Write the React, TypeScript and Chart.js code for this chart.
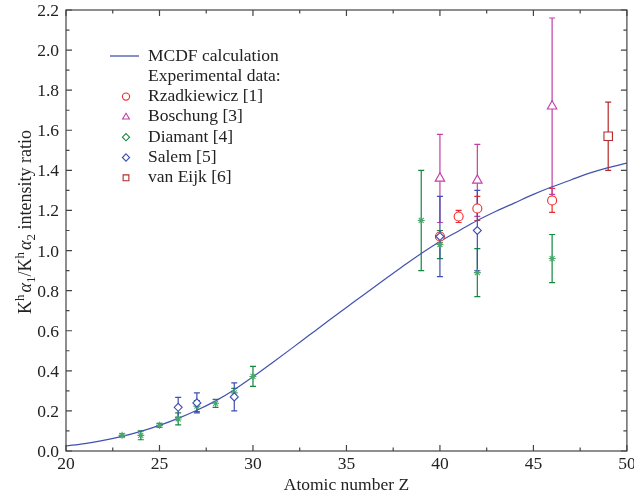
import { useEffect, useRef } from 'react';
import { Chart, registerables } from 'chart.js';

Chart.register(...registerables);

const FONT = "'Liberation Serif', 'Times New Roman', serif";

// MCDF calculation curve
const curveZ = [20, 21, 22, 23, 24, 25, 26, 27, 28, 29, 30, 31, 32, 33, 34, 35, 36, 37, 38, 39, 40, 41, 42, 43, 44, 45, 46, 47, 48, 49, 50];
const curveR = [0.025, 0.037, 0.053, 0.073, 0.098, 0.128, 0.163, 0.203, 0.25, 0.306, 0.37, 0.438, 0.507, 0.577, 0.647, 0.716, 0.785, 0.853, 0.92, 0.985, 1.045, 1.098, 1.15, 1.196, 1.238, 1.28, 1.318, 1.352, 1.386, 1.414, 1.436];

// Experimental data
const rzadZ = [40, 41, 42, 46];
const rzadR = [1.07, 1.17, 1.21, 1.25];
const rzadErr = [0.03, 0.03, 0.06, 0.06];

const boschZ = [40, 42, 46];
const boschR = [1.36, 1.35, 1.72];
const boschErr = [0.22, 0.18, 0.44];

const diamZ = [23, 24, 25, 26, 27, 28, 29, 30, 39, 40, 42, 46];
const diamR = [0.078, 0.078, 0.128, 0.16, 0.224, 0.238, 0.29, 0.372, 1.15, 1.03, 0.89, 0.96];
const diamErr = [0.008, 0.022, 0.01, 0.03, 0.028, 0.02, 0.022, 0.05, 0.25, 0.07, 0.12, 0.12];

const salemZ = [26, 27, 29, 40, 42];
const salemR = [0.218, 0.24, 0.27, 1.07, 1.1];
const salemErr = [0.05, 0.05, 0.07, 0.2, 0.2];

const eijkZ = [49];
const eijkR = [1.57];
const eijkErr = [0.17];

const xTickLabels = [20, 25, 30, 35, 40, 45, 50];
const yTickLabels = [0, 0.2, 0.4, 0.6, 0.8, 1.0, 1.2, 1.4, 1.6, 1.8, 2.0, 2.2];

const C_CURVE = '#4152b0';
const C_RED = '#ee2a2a';
const C_MAG = '#c040a8';
const C_GREEN = '#13883e';
const C_GREEN_L = '#45a868';
const C_BLUE = '#3c4fb2';
const C_DRED = '#b52a2a';
const C_TEXT = '#222';

const pts = (zs: number[], rs: number[]) => zs.map((z, i) => ({ x: z, y: rs[i] }));

function drawMarker(ctx: CanvasRenderingContext2D, style: string, x: number, y: number, r: number, color: string) {
  ctx.save();
  ctx.strokeStyle = color;
  ctx.fillStyle = '#fff';
  ctx.lineWidth = 1.1;
  ctx.beginPath();
  if (style === 'circle') {
    ctx.arc(x, y, r, 0, Math.PI * 2);
  } else if (style === 'triangle') {
    ctx.moveTo(x, y - r);
    ctx.lineTo(x + r * 0.95, y + r * 0.6);
    ctx.lineTo(x - r * 0.95, y + r * 0.6);
    ctx.closePath();
  } else if (style === 'rectRot') {
    ctx.moveTo(x, y - r);
    ctx.lineTo(x + r, y);
    ctx.lineTo(x, y + r);
    ctx.lineTo(x - r, y);
    ctx.closePath();
  } else {
    const h = r * 0.8;
    ctx.rect(x - h, y - h, 2 * h, 2 * h);
  }
  ctx.fill();
  ctx.stroke();
  ctx.restore();
}

const errorBarPlugin = {
  id: 'errbars',
  beforeDatasetsDraw(chart: any) {
    const { ctx, scales } = chart;
    const xs = scales.x;
    const ys = scales.y;
    chart.data.datasets.forEach((ds: any) => {
      if (!ds.errs) return;
      ctx.save();
      ctx.strokeStyle = ds.errColor;
      ctx.lineWidth = 1.2;
      ds.data.forEach((p: any, i: number) => {
        const px = xs.getPixelForValue(p.x);
        const top = ys.getPixelForValue(p.y + ds.errs[i]);
        const bot = ys.getPixelForValue(p.y - ds.errs[i]);
        ctx.beginPath();
        ctx.moveTo(px, top);
        ctx.lineTo(px, bot);
        ctx.moveTo(px - 3, top);
        ctx.lineTo(px + 3, top);
        ctx.moveTo(px - 3, bot);
        ctx.lineTo(px + 3, bot);
        ctx.stroke();
      });
      ctx.restore();
    });
  },
};

const framePlugin = {
  id: 'frame',
  afterDraw(chart: any) {
    const { ctx, chartArea: a, scales } = chart;
    const xs = scales.x;
    const ys = scales.y;
    ctx.save();
    ctx.strokeStyle = '#444';
    ctx.lineWidth = 1.2;
    ctx.strokeRect(a.left, a.top, a.right - a.left, a.bottom - a.top);
    ctx.beginPath();
    for (let v = 20; v <= 50.001; v += 2.5) {
      const px = xs.getPixelForValue(v);
      const len = Math.abs(v % 5) < 1e-6 ? 6 : 3.5;
      ctx.moveTo(px, a.bottom);
      ctx.lineTo(px, a.bottom - len);
      ctx.moveTo(px, a.top);
      ctx.lineTo(px, a.top + len);
    }
    for (let k = 0; k <= 22; k++) {
      const py = ys.getPixelForValue(k / 10);
      const len = k % 2 === 0 ? 6 : 3.5;
      ctx.moveTo(a.left, py);
      ctx.lineTo(a.left + len, py);
      ctx.moveTo(a.right, py);
      ctx.lineTo(a.right - len, py);
    }
    ctx.stroke();

    // tick labels
    ctx.fillStyle = C_TEXT;
    ctx.font = `17.5px ${FONT}`;
    ctx.textBaseline = 'alphabetic';
    ctx.textAlign = 'center';
    xTickLabels.forEach((v) => {
      ctx.fillText(String(v), xs.getPixelForValue(v), a.bottom + 18);
    });
    ctx.textAlign = 'right';
    yTickLabels.forEach((v) => {
      ctx.fillText(v.toFixed(1), a.left - 7, ys.getPixelForValue(v) + 6);
    });

    // axis titles
    ctx.textAlign = 'center';
    ctx.font = `17.5px ${FONT}`;
    ctx.fillText('Atomic number Z', (a.left + a.right) / 2, 490);

    // y title with super/subscripts
    const parts: { t: string; f: string; dy: number }[] = [
      { t: 'K', f: `18px ${FONT}`, dy: 0 },
      { t: 'h', f: `13px ${FONT}`, dy: -7.5 },
      { t: ' ', f: `8px ${FONT}`, dy: 0 },
      { t: 'α', f: `italic 18px ${FONT}`, dy: 0 },
      { t: '1', f: `13px ${FONT}`, dy: 4 },
      { t: '/K', f: `18px ${FONT}`, dy: 0 },
      { t: 'h', f: `13px ${FONT}`, dy: -7.5 },
      { t: ' ', f: `8px ${FONT}`, dy: 0 },
      { t: 'α', f: `italic 18px ${FONT}`, dy: 0 },
      { t: '2', f: `13px ${FONT}`, dy: 4 },
      { t: ' intensity ratio', f: `18px ${FONT}`, dy: 0 },
    ];
    let total = 0;
    const widths = parts.map((p) => {
      ctx.font = p.f;
      const w = ctx.measureText(p.t).width;
      total += w;
      return w;
    });
    ctx.translate(31, 222);
    ctx.rotate(-Math.PI / 2);
    ctx.textAlign = 'left';
    let cx = -total / 2;
    parts.forEach((p, i) => {
      ctx.font = p.f;
      ctx.fillText(p.t, cx, p.dy);
      cx += widths[i];
    });
    ctx.restore();

    // legend
    ctx.save();
    ctx.font = `17.5px ${FONT}`;
    ctx.fillStyle = C_TEXT;
    ctx.textBaseline = 'middle';
    ctx.textAlign = 'left';
    const x0 = 126;
    const tx = 148;
    let y = 56;
    const step = 20.3;
    const curveDs = chart.data.datasets[0];
    ctx.strokeStyle = curveDs.borderColor;
    ctx.lineWidth = 1.3;
    ctx.beginPath();
    ctx.moveTo(110, y);
    ctx.lineTo(139, y);
    ctx.stroke();
    ctx.fillText(curveDs.label, tx, y);
    y += step;
    ctx.fillText('Experimental data:', tx, y);
    chart.data.datasets.slice(1).forEach((ds: any) => {
      y += step;
      drawMarker(ctx, ds.legendStyle, x0, y, 3.6, ds.legendColor);
      ctx.fillStyle = C_TEXT;
      ctx.fillText(ds.label, tx, y);
    });
    ctx.restore();
  },
};

export default function App() {
  const ref = useRef<HTMLCanvasElement | null>(null);
  useEffect(() => {
    if (!ref.current) return;
    const mk = (label: string, zs: number[], rs: number[], errs: number[], style: string, color: string, radius: number, order: number, extra: any = {}) => ({
      type: 'scatter' as const,
      label,
      data: pts(zs, rs),
      errs,
      errColor: color,
      legendStyle: style,
      legendColor: color,
      pointStyle: style,
      pointRadius: radius,
      pointBorderColor: color,
      pointBackgroundColor: '#fff',
      pointBorderWidth: 1.1,
      showLine: false,
      order,
      ...extra,
    });
    const chart = new Chart(ref.current, {
      type: 'scatter',
      data: {
        datasets: [
          {
            type: 'line',
            label: 'MCDF calculation',
            data: pts(curveZ, curveR),
            borderColor: C_CURVE,
            borderWidth: 1.2,
            pointRadius: 0,
            fill: false,
            cubicInterpolationMode: 'monotone',
            order: 10,
          } as any,
          mk('Rzadkiewicz [1]', rzadZ, rzadR, rzadErr, 'circle', C_RED, 4.5, 5),
          mk('Boschung [3]', boschZ, boschR, boschErr, 'triangle', C_MAG, 5.5, 4),
          mk('Diamant [4]', diamZ, diamR, diamErr, 'rectRot', C_GREEN, 3.5, 3, {
            pointStyle: 'star',
            pointBorderColor: C_GREEN_L,
            pointBackgroundColor: C_GREEN_L,
          }),
          mk('Salem [5]', salemZ, salemR, salemErr, 'rectRot', C_BLUE, 4, 2),
          mk('van Eijk [6]', eijkZ, eijkR, eijkErr, 'rect', C_DRED, 6, 1),
        ],
      },
      options: {
        animation: false,
        responsive: false,
        layout: { padding: { left: 0, right: 7, top: 10, bottom: 0 } },
        plugins: { legend: { display: false }, tooltip: { enabled: false } },
        scales: {
          x: {
            type: 'linear',
            min: 20,
            max: 50,
            afterFit: (s: any) => {
              s.height = 44;
            },
            grid: { display: false, drawTicks: false },
            border: { display: false },
            ticks: { display: false },
          },
          y: {
            type: 'linear',
            min: 0,
            max: 2.2,
            afterFit: (s: any) => {
              s.width = 66;
            },
            grid: { display: false, drawTicks: false },
            border: { display: false },
            ticks: { display: false },
          },
        },
      } as any,
      plugins: [errorBarPlugin, framePlugin],
    });
    return () => chart.destroy();
  }, []);
  return (
    <div style={{ position: 'fixed', left: 0, top: 0, width: 634, height: 495, background: '#fff' }}>
      <canvas ref={ref} width={634} height={495} />
    </div>
  );
}
